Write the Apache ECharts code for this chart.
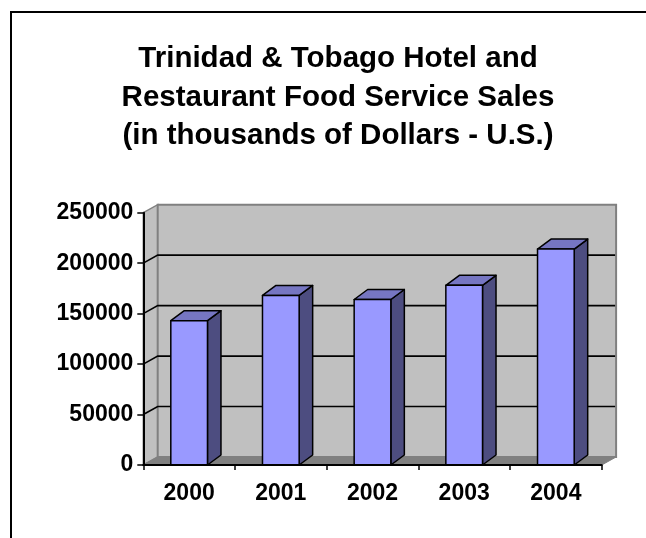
<!DOCTYPE html>
<html><head><meta charset="utf-8">
<script src="https://cdn.jsdelivr.net/npm/echarts@6/dist/echarts.min.js"></script>
<style>html,body{margin:0;padding:0;background:#fff;overflow:hidden}#c{width:646px;height:538px}</style>
</head><body><div id="c"></div>
<script>
const categories = ['2000', '2001', '2002', '2003', '2004'];
const salesValues = [143000, 168000, 164000, 178000, 214000];
const yTickValues = [0, 50000, 100000, 150000, 200000, 250000];
const titleLines = ['Trinidad & Tobago Hotel and', 'Restaurant Food Service Sales', '(in thousands of Dollars - U.S.)'];

const FONT = '"Liberation Sans", Arial, sans-serif';
const WALL_DX = 14.4, WALL_DY = -8;
const BAR_DX = 13.5, BAR_DY = -10;

const chart = echarts.init(document.getElementById('c'), null, { renderer: 'canvas' });

function wallsItem(params, api) {
  const cs = params.coordSys;
  const x0 = cs.x, x1 = cs.x + cs.width, yT = cs.y, yB = cs.y + cs.height;
  return {
    type: 'group', children: [
      { type: 'polygon', shape: { points: [[x0, yB], [x0, yT], [x0 + WALL_DX, yT + WALL_DY], [x0 + WALL_DX, yB + WALL_DY]] },
        style: { fill: '#C0C0C0', stroke: '#808080', lineWidth: 1.5 } },
      { type: 'rect', shape: { x: x0 + WALL_DX, y: yT + WALL_DY, width: cs.width, height: cs.height },
        style: { fill: '#C0C0C0', stroke: '#808080', lineWidth: 2 } },
      { type: 'polygon', shape: { points: [[x0, yB], [x0 + WALL_DX, yB + WALL_DY], [x1 + WALL_DX, yB + WALL_DY], [x1, yB]] },
        style: { fill: '#808080', stroke: '#808080', lineWidth: 1 } }
    ]
  };
}

function gridItem(params, api) {
  const cs = params.coordSys;
  const v = api.value(0);
  const x0 = cs.x, x1 = cs.x + cs.width;
  const y = api.coord([0, v])[1];
  if (v <= 0 || v >= 250000) return { type: 'group', children: [] };
  return {
    type: 'polyline',
    shape: { points: [[x0, y], [x0 + WALL_DX, y + WALL_DY], [x1 + WALL_DX - 1, y + WALL_DY]] },
    style: { stroke: '#000', lineWidth: 1.6, fill: null }
  };
}

function barItem(params, api) {
  const idx = api.value(0);
  const top = api.coord([idx, api.value(1)]);
  const base = api.coord([idx, 0]);
  const band = api.size([1, 0])[0];
  const w = band * 0.4;
  const xl = top[0] - w / 2, xr = top[0] + w / 2, yt = top[1], yb = base[1];
  const st = { stroke: '#000', lineWidth: 1.5, lineJoin: 'round' };
  return {
    type: 'group', children: [
      { type: 'polygon', shape: { points: [[xr, yt], [xr + BAR_DX, yt + BAR_DY], [xr + BAR_DX, yb + BAR_DY], [xr, yb]] },
        style: Object.assign({ fill: '#4D4D80' }, st) },
      { type: 'polygon', shape: { points: [[xl, yt], [xl + BAR_DX, yt + BAR_DY], [xr + BAR_DX, yt + BAR_DY], [xr, yt]] },
        style: Object.assign({ fill: '#7676C2' }, st) },
      { type: 'rect', shape: { x: xl, y: yt, width: w, height: yb - yt },
        style: Object.assign({ fill: '#9999FF' }, st) }
    ]
  };
}

chart.setOption({
  animation: false,
  backgroundColor: '#fff',
  title: {
    text: titleLines.join('\n'),
    left: 333, top: 35, textAlign: 'center',
    textStyle: { fontFamily: FONT, fontSize: 29.5, fontWeight: 'bold', color: '#000', lineHeight: 38.5 }
  },
  graphic: [
    { type: 'line', z: -10, silent: true, shape: { x1: 11, y1: 11, x2: 11, y2: 540 }, style: { stroke: '#000', lineWidth: 2 } },
    { type: 'line', z: -10, silent: true, shape: { x1: 10, y1: 12, x2: 650, y2: 12 }, style: { stroke: '#000', lineWidth: 2 } }
  ],
  grid: { left: 143.3, right: 44.3, top: 212.7, bottom: 73, containLabel: false, outerBoundsMode: 'none' },
  xAxis: {
    type: 'category', data: categories, boundaryGap: true,
    axisLine: { show: true, lineStyle: { color: '#000', width: 2 } },
    axisTick: { show: true, length: 5, lineStyle: { color: '#000', width: 1.5 } },
    axisLabel: { fontFamily: FONT, fontSize: 23, fontWeight: 'bold', color: '#000', margin: 17 },
    splitLine: { show: false }, z: 10
  },
  yAxis: {
    type: 'value', min: 0, max: 250000, interval: 50000,
    axisLine: { show: true, lineStyle: { color: '#000', width: 2 } },
    axisTick: { show: true, length: 6, lineStyle: { color: '#000', width: 1.5 } },
    axisLabel: { fontFamily: FONT, fontSize: 23, fontWeight: 'bold', color: '#000', margin: 10, padding: [3, 0, 0, 0],
      formatter: v => String(v) },
    splitLine: { show: false }, z: 10
  },
  series: [
    { type: 'custom', name: 'walls', renderItem: wallsItem, data: [[0]], z: 1, silent: true, clip: false },
    { type: 'custom', name: 'grid', renderItem: gridItem, data: yTickValues.map(v => [v]), encode: { y: 0 }, z: 2, silent: true, clip: false },
    { type: 'custom', name: 'sales', renderItem: barItem, data: salesValues.map((v, i) => [i, v]), encode: { x: 0, y: 1 }, z: 3, clip: false }
  ]
});
</script></body></html>
